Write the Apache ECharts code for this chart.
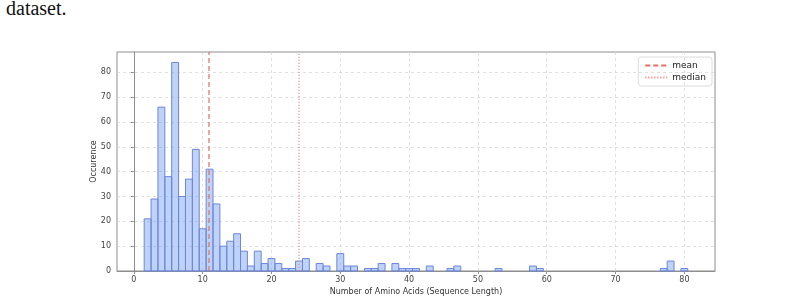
<!DOCTYPE html>
<html>
<head>
<meta charset="utf-8">
<script src="https://cdn.jsdelivr.net/npm/echarts@6/dist/echarts.min.js"></script>
<style>
  html, body { margin: 0; padding: 0; background: #fff; }
  #cap { position: absolute; left: 6px; top: -3px; font: 20px "Liberation Serif", serif; color: #111; }
  #chart { width: 800px; height: 303px; }
</style>
</head>
<body>
<div id="cap">dataset.</div>
<div id="chart"></div>
<script>
// sequence length bins (centre of each 1-wide bin) and counts
var binCenters = [2, 3, 4, 5, 6, 7, 8, 9, 10, 11, 12, 13, 14, 15, 16, 17, 18, 19, 20, 21,
                  22, 23, 24, 25, 27, 28, 30, 31, 32, 34, 35, 36, 38, 39, 40, 41, 43,
                  46, 47, 53, 58, 59, 77, 78, 80];
var counts     = [21, 29, 66, 38, 84, 30, 37, 49, 17, 41, 27, 10, 12, 15, 8, 2, 8, 3, 5, 3,
                  1, 1, 4, 5, 3, 2, 7, 2, 2, 1, 1, 3, 3, 1, 1, 1, 2,
                  1, 2, 1, 2, 1, 1, 4, 1];
var meanLen = 10.92;
var medianLen = 24.0;
var xTicks = [0, 10, 20, 30, 40, 50, 60, 70, 80];
var yTicks = [0, 10, 20, 30, 40, 50, 60, 70, 80];

var xMin = -2.45, xMax = 84.45, yMax = 88.2;

var hist = [];
for (var i = 0; i < binCenters.length; i++) hist.push([binCenters[i], counts[i]]);

var chart = echarts.init(document.getElementById('chart'));
var font = 'DejaVu Sans';
var gridLine = { show: true, lineStyle: { color: '#d8d8d8', type: [3, 3], width: 0.8 } };

chart.setOption({
  animation: false,
  textStyle: { fontFamily: font },
  grid: { left: 117, right: 85, top: 52, bottom: 32, show: true, borderColor: '#8e8e8e', borderWidth: 1 },
  legend: {
    right: 88, top: 57, orient: 'vertical',
    itemWidth: 22, itemHeight: 8, itemGap: 3,
    padding: [4, 6, 4, 6],
    borderColor: '#dcdcdc', borderWidth: 1, borderRadius: 3,
    itemStyle: { color: 'transparent', borderWidth: 0 },
    textStyle: { fontFamily: font, fontSize: 9, color: '#222' },
    data: ['mean', 'median']
  },
  xAxis: {
    type: 'value', min: xMin, max: xMax,
    name: 'Number of Amino Acids (Sequence Length)', nameLocation: 'middle', nameGap: 17,
    nameMoveOverlap: false,
    nameTextStyle: { fontFamily: font, fontSize: 8, color: '#333' },
    axisLine: { show: true, lineStyle: { color: '#8e8e8e' } },
    axisTick: { show: true, length: 3, customValues: xTicks, lineStyle: { color: '#8e8e8e' } },
    axisLabel: { fontSize: 8, color: '#444', margin: 5, customValues: xTicks },
    splitLine: gridLine
  },
  yAxis: {
    type: 'value', min: 0, max: yMax,
    name: 'Occurence', nameLocation: 'middle', nameGap: 19,
    nameMoveOverlap: false,
    nameTextStyle: { fontFamily: font, fontSize: 8, color: '#333' },
    axisLine: { show: true, lineStyle: { color: '#8e8e8e' } },
    axisTick: { show: true, length: 3, customValues: yTicks, lineStyle: { color: '#8e8e8e' } },
    axisLabel: { fontSize: 8, color: '#444', margin: 6, customValues: yTicks },
    splitLine: gridLine
  },
  series: [
    {
      type: 'custom',
      name: 'hist',
      data: hist,
      encode: { x: 0, y: 1 },
      renderItem: function (params, api) {
        var x = api.value(0), c = api.value(1);
        var p0 = api.coord([x - 0.5, c]);
        var p1 = api.coord([x + 0.5, 0]);
        return {
          type: 'rect',
          shape: { x: p0[0], y: p0[1], width: p1[0] - p0[0], height: p1[1] - p0[1] },
          style: { fill: 'rgba(100,149,237,0.42)', stroke: '#6d86dc', lineWidth: 1 }
        };
      },
      z: 3
    },
    {
      type: 'line', name: 'mean',
      data: [[meanLen, 0], [meanLen, yMax]],
      symbol: 'none', color: '#e0705f',
      lineStyle: { color: '#e0705f', width: 1.2, type: [5, 3] },
      z: 4
    },
    {
      type: 'line', name: 'median',
      data: [[medianLen, 0], [medianLen, yMax]],
      symbol: 'none', color: '#f08a8a',
      lineStyle: { color: '#f08a8a', width: 1.2, type: [1.2, 1.8] },
      z: 4
    }
  ]
});
</script>
</body>
</html>
